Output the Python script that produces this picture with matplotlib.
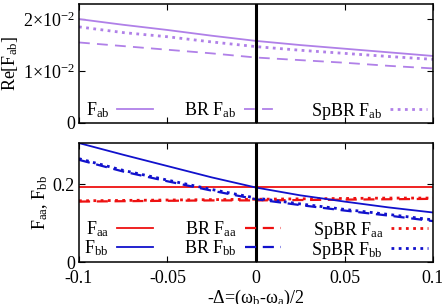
import matplotlib
matplotlib.use("Agg")
import matplotlib.pyplot as plt

plt.rcParams['font.family'] = ['Liberation Serif', 'DejaVu Serif']
plt.rcParams['mathtext.fontset'] = 'custom'
plt.rcParams['mathtext.rm'] = 'Liberation Serif'
plt.rcParams['mathtext.it'] = 'Liberation Serif:italic'
plt.rcParams['font.size'] = 13

# detuning values
delta = [-0.1, -0.075, -0.05, -0.025, 0.0, 0.025, 0.05, 0.075, 0.1]

# top panel: Re[F_ab]
f_ab = [0.0200, 0.0189, 0.0179, 0.0168, 0.0158, 0.0150, 0.0143, 0.0136, 0.0129]
br_f_ab = [0.0155, 0.0148, 0.0141, 0.0134, 0.0126, 0.0121, 0.0116, 0.0110, 0.0105]
spbr_f_ab = [0.0185, 0.0174, 0.0166, 0.0156, 0.0147, 0.0140, 0.0134, 0.0128, 0.01225]

# bottom panel: F_aa, F_bb
f_aa = [0.192, 0.192, 0.192, 0.192, 0.192, 0.192, 0.192, 0.192, 0.192]
br_f_aa = [0.155, 0.156, 0.157, 0.158, 0.158, 0.159, 0.160, 0.161, 0.162]
spbr_f_aa = [0.157, 0.158, 0.159, 0.160, 0.161, 0.162, 0.163, 0.164, 0.164]
f_bb = [0.305, 0.275, 0.246, 0.217, 0.191, 0.171, 0.155, 0.140, 0.127]
br_f_bb = [0.262, 0.232, 0.207, 0.183, 0.161, 0.146, 0.132, 0.119, 0.105]
spbr_f_bb = [0.265, 0.235, 0.210, 0.186, 0.164, 0.149, 0.135, 0.122, 0.108]

purple = '#b080e8'
red = '#ee1111'
blue = '#1111cc'
dots = (0, (1, 1.6))
dashes = (0, (5, 3))

fig = plt.figure(figsize=(4.42, 3.04), dpi=100)
ax1 = fig.add_axes([0.1787, 0.5954, 0.801, 0.3914])
ax2 = fig.add_axes([0.1787, 0.138, 0.801, 0.3914])

ax1.plot(delta, f_ab, color=purple, lw=1.3, label=r'F$_{\rm ab}$')
ax1.plot(delta, br_f_ab, color=purple, lw=1.3, ls=(0, (6, 4)), label=r'BR F$_{\rm ab}$')
ax1.plot(delta, spbr_f_ab, color=purple, lw=2, ls=dots, label=r'SpBR F$_{\rm ab}$')
ax1.set_ylim(0, 0.0229)
ax1.set_yticks([0, 0.01, 0.02])
ax1.set_yticklabels(['0', r'1$\times$10$^{-2}$', r'2$\times$10$^{-2}$'])
ax1.set_ylabel(r'Re[F$_{\rm ab}$]', labelpad=2)
ax1.set_xticklabels([])

l_aa, = ax2.plot(delta, f_aa, color=red, lw=1.3, label=r'F$_{\rm aa}$')
l_braa, = ax2.plot(delta, br_f_aa, color=red, lw=1.6, ls=dashes, label=r'BR F$_{\rm aa}$')
l_spaa, = ax2.plot(delta, spbr_f_aa, color=red, lw=2, ls=dots, label=r'SpBR F$_{\rm aa}$')
l_bb, = ax2.plot(delta, f_bb, color=blue, lw=1.3, label=r'F$_{\rm bb}$')
l_brbb, = ax2.plot(delta, br_f_bb, color=blue, lw=1.6, ls=dashes, label=r'BR F$_{\rm bb}$')
l_spbb, = ax2.plot(delta, spbr_f_bb, color=blue, lw=2, ls=dots, label=r'SpBR F$_{\rm bb}$')
ax2.set_ylim(0, 0.305)
ax2.set_yticks([0, 0.2])
ax2.set_yticklabels(['0', '0.2'])
ax2.set_ylabel(r'F$_{\rm aa}$, F$_{\rm bb}$', labelpad=2)
ax2.set_xticklabels(['-0.1', '-0.05', '0', '0.05', '0.1'])
ax2.set_xlabel(r'-Δ=(ω$_{\rm b}$-ω$_{\rm a}$)/2', labelpad=0)

for ax in (ax1, ax2):
    ax.set_xlim(-0.1, 0.1)
    ax.set_xticks([-0.1, -0.05, 0, 0.05, 0.1])
    ax.axvline(0, color='black', lw=2.2, zorder=5)
    ax.tick_params(direction='in', top=True, right=True, length=4, width=0.8)
    ax.tick_params(axis='x', pad=6)
    ax.tick_params(axis='y', pad=3)
    for s in ax.spines.values():
        s.set_linewidth(1.1)

ax1.legend(ncol=3, loc='lower center', markerfirst=False, frameon=False,
           handlelength=2.0, columnspacing=1.7, handletextpad=0.45,
           borderaxespad=0.0, bbox_to_anchor=(0.5, -0.05))
ax2.legend([l_aa, l_bb, l_braa, l_brbb, l_spaa, l_spbb],
           [l.get_label() for l in [l_aa, l_bb, l_braa, l_brbb, l_spaa, l_spbb]],
           ncol=3, loc='lower center', markerfirst=False, frameon=False,
           handlelength=2.0, columnspacing=1.7, handletextpad=0.45,
           labelspacing=-0.05, borderaxespad=0.0, bbox_to_anchor=(0.5, -0.05))

fig.savefig('out.png', dpi=100)
